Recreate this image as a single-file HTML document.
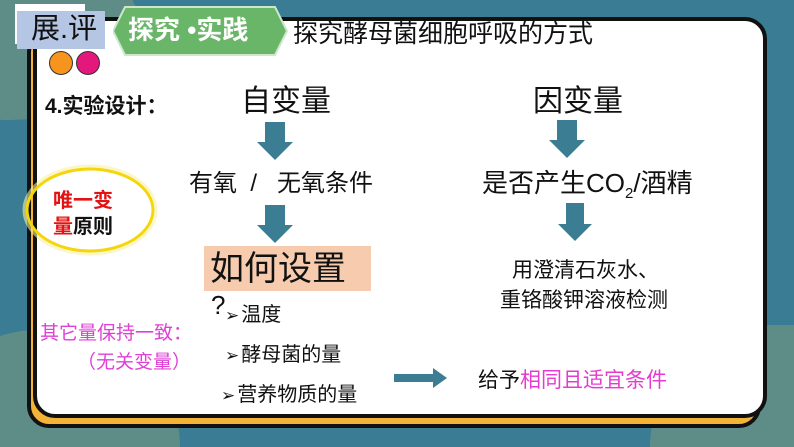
<!DOCTYPE html>
<html style="margin:0;width:794px;height:447px;overflow:hidden"><head><meta charset="utf-8"><style>
body{margin:0;width:794px;height:447px;overflow:hidden;font-family:"Liberation Sans","Noto Sans CJK SC",sans-serif;}
#w{position:relative;width:794px;height:447px;overflow:hidden;background:#3a7c93;}
.a{position:absolute;white-space:nowrap;line-height:1;}
.b{font-family:"DejaVu Sans",sans-serif;font-size:17px;margin-right:2px}
</style></head><body><div id="w">
<div class="a" style="left:-120px;top:-60px;width:260px;height:180px;border-radius:50%;background:#5e8d88"></div>
<div class="a" style="left:-80px;top:330px;width:260px;height:117px;border-radius:130px 130px 0 0;background:#5e8d88"></div>
<div class="a" style="left:650px;top:325px;width:144px;height:122px;border-radius:130px 0 0 0;background:#5e8d88"></div>
<div class="a" style="left:27px;top:30px;width:726px;height:390px;background:#f5b335;border:4px solid #111;border-radius:22px"></div>
<div class="a" style="left:33px;top:17px;width:726px;height:393px;background:#fff;border:4px solid #111;border-radius:22px"></div>
<div class="a" style="left:15px;top:4px;width:70px;height:40px;background:#fff"></div>
<div class="a" style="left:17px;top:11px;width:88px;height:38px;background:#b4c6e4;font-size:29px;color:#111;padding:4px 0 0 14px;box-sizing:border-box">展.评</div>
<svg class="a" style="left:113px;top:6px" width="175" height="50"><polygon points="12,1 162,1 174,25 162,49 12,49 0,25" fill="#69b668" stroke="#cde7cc" stroke-width="2"/></svg>
<div class="a" style="left:128px;top:17px;font-size:26px;font-weight:bold;color:#fff">探究 •实践</div>
<div class="a" style="left:293px;top:22px;font-size:25px;color:#111">探究酵母菌细胞呼吸的方式</div>
<div class="a" style="left:49px;top:51px;width:22px;height:22px;border-radius:50%;background:#f7941e;border:1px solid #333"></div>
<div class="a" style="left:76px;top:51px;width:22px;height:22px;border-radius:50%;background:#e4187c;border:1px solid #333"></div>
<div class="a" style="left:45px;top:96px;font-size:21px;font-weight:bold;color:#111">4.实验设计：</div>
<div class="a" style="left:241px;top:87px;font-size:30px;color:#111">自变量</div>
<div class="a" style="left:533px;top:87px;font-size:30px;color:#111">因变量</div>
<svg class="a" style="left:0;top:0" width="794" height="447">
<g fill="#3b7d93">
<polygon points="265,122 285,122 285,142 293,142 275,160 257,142 265,142"/>
<polygon points="265,205 285,205 285,225 293,225 275,243 257,225 265,225"/>
<polygon points="557,120 577,120 577,140 585,140 567,158 549,140 557,140"/>
<polygon points="566,203 584,203 584,224 592,224 575,241 558,224 566,224"/>
<polygon points="394,374 433,374 433,368 447,378 433,388 433,382 394,382"/>
</g>
<ellipse cx="90" cy="210" rx="63" ry="41" fill="none" stroke="#f4d60c" stroke-width="3"/>
<ellipse cx="90" cy="210" rx="66" ry="44" fill="none" stroke="#faf0a0" stroke-width="3" opacity=".6"/>
</svg>
<div class="a" style="left:189px;top:172px;font-size:24px;color:#111">有氧&nbsp; /&nbsp;&nbsp; 无氧条件</div>
<div class="a" style="left:482px;top:170px;font-size:26px;color:#111">是否产生CO<sub style="font-size:15px">2</sub>/酒精</div>
<div class="a" style="left:53px;top:188px;font-size:20px;font-weight:bold;color:#e31313;line-height:26px">唯一变<br>量<span style="color:#111">原则</span></div>
<div class="a" style="left:204px;top:246px;width:167px;height:45px;background:#f7cbae"></div>
<div class="a" style="left:210px;top:252px;font-size:34px;color:#111">如何设置</div>
<div class="a" style="left:211px;top:292px;font-size:26px;color:#111">?</div>
<div class="a" style="left:225px;top:305px;font-size:20px;color:#111"><span class="b">➢</span>温度</div>
<div class="a" style="left:225px;top:345px;font-size:20px;color:#111"><span class="b">➢</span>酵母菌的量</div>
<div class="a" style="left:221px;top:385px;font-size:20px;color:#111"><span class="b">➢</span>营养物质的量</div>
<div class="a" style="left:40px;top:324px;font-size:19px;color:#e03fd6">其它量保持一致：</div>
<div class="a" style="left:77px;top:353px;font-size:19px;color:#e03fd6">（无关变量）</div>
<div class="a" style="left:512px;top:260px;font-size:21px;color:#111">用澄清石灰水、</div>
<div class="a" style="left:500px;top:290px;font-size:21px;color:#111">重铬酸钾溶液检测</div>
<div class="a" style="left:478px;top:370px;font-size:21px;color:#111">给予<span style="color:#e63bcf">相同且适宜条件</span></div>
</div></body></html>
